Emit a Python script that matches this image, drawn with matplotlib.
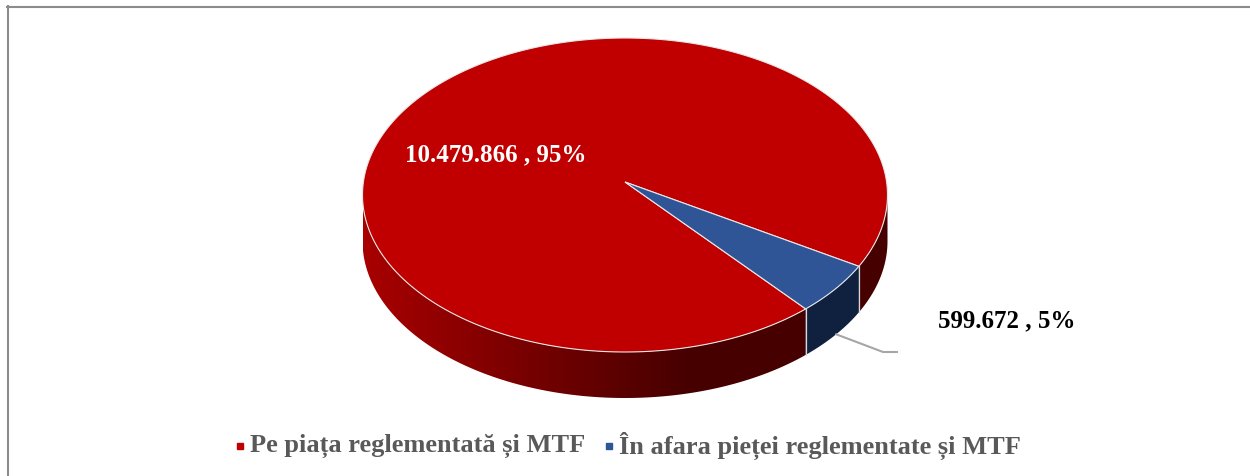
import numpy as np
import matplotlib
matplotlib.use("Agg")
import matplotlib.pyplot as plt
from matplotlib.patches import Polygon
from matplotlib.colors import to_rgb

# ---- data ----
categories = ["Pe piața reglementată și MTF", "În afara pieței reglementate și MTF"]
values = [10479866, 599672]
value_labels = ["10.479.866", "599.672"]
top_colors = ["#C00000", "#2F5597"]
side_left_colors = ["#A80000", "#1A2D55"]
side_right_colors = ["#460000", "#10203F"]

# ---- layout ----
W, H = 1250, 477
cx, cy = 625.0, 196.0      # pie centre
a, b = 262.5, 157.0        # ellipse semi-axes
depth = 46.0               # extrusion depth
start_deg = -46.5          # where the first slice starts (clockwise)

fig = plt.figure(figsize=(W / 100, H / 100), dpi=100)
ax = fig.add_axes([0, 0, 1, 1])
ax.set_xlim(0, W)
ax.set_ylim(H, 0)
ax.axis("off")

total = float(sum(values))
spans = [360.0 * v / total for v in values]

def rim(t_deg, dz=0.0):
    t = np.radians(t_deg)
    return cx + a * np.cos(t), cy - b * np.sin(t) + dz

# slice angle ranges (clockwise from start)
ranges = []
cur = start_deg
for s in spans:
    ranges.append((cur - s, cur))
    cur -= s

def front_parts(lo, hi):
    """parts of [lo,hi] (deg) lying in the front half (sin<0)."""
    parts = []
    for k in range(-3, 3):
        flo, fhi = -180 + 360 * k, 0 + 360 * k
        l, h = max(lo, flo), min(hi, fhi)
        if h > l:
            parts.append((l, h))
    return parts

def hgrad(c_left, c_right, n=256):
    cl, cr = np.array(to_rgb(c_left)), np.array(to_rgb(c_right))
    xs = np.linspace(cx - a, cx + a, n)
    f = np.clip((xs - (cx - a)) / (1.25 * a), 0, 1)[:, None]
    return (cl * (1 - f) + cr * f)[None, :, :]

# ---- sides ----
for i, (lo, hi) in enumerate(ranges):
    for (l, h) in front_parts(lo, hi):
        ts = np.linspace(l, h, 200)
        xt, yt = rim(ts)
        xb, yb = rim(ts[::-1], depth)
        poly = Polygon(np.column_stack([np.r_[xt, xb], np.r_[yt, yb]]),
                       closed=True, facecolor="none", edgecolor="none")
        ax.add_patch(poly)
        im = ax.imshow(hgrad(side_left_colors[i], side_right_colors[i]),
                       extent=[cx - a, cx + a, cy + b + depth + 5, cy - b - 5],
                       aspect="auto", interpolation="bilinear", zorder=1)
        im.set_clip_path(poly)
        # vertical seam at slice boundaries
        for t in (l, h):
            if -179.5 < ((t + 180) % 360) - 180 < -0.5:
                x0, y0 = rim(t)
                ax.plot([x0, x0], [y0, y0 + depth], color="#d9d9d9", lw=0.8, zorder=2)

# ---- tops ----
for i, (lo, hi) in enumerate(ranges):
    ts = np.linspace(lo, hi, 300)
    xt, yt = rim(ts)
    pts = np.column_stack([np.r_[cx, xt], np.r_[cy - 13, yt]])
    ax.add_patch(Polygon(pts, closed=True, facecolor=top_colors[i],
                         edgecolor="#e8e8e8", lw=0.8, zorder=3))

# ---- labels ----
pcts = [f"{round(100 * v / total)}%" for v in values]
ax.text(405, 155, f"{value_labels[0]} , {pcts[0]}", color="white",
        fontsize=18, fontweight="bold", family="Liberation Serif",
        ha="left", va="center", zorder=5)
ax.text(938, 321, f"{value_labels[1]} , {pcts[1]}", color="black",
        fontsize=18, fontweight="bold", family="Liberation Serif",
        ha="left", va="center", zorder=5)

# leader line for the small slice
mid = (ranges[1][0] + ranges[1][1]) / 2
lx, ly = rim(mid, depth - 1)
ax.plot([lx, 883, 898], [ly, 353, 353], color="#A6A6A6", lw=1.5, zorder=4,
        solid_capstyle="butt")

# ---- legend ----
leg_x = [240, 609]
for i, cat in enumerate(categories):
    ax.plot(leg_x[i], 447, marker="s", ms=5, color=top_colors[i], zorder=5)
    ax.text(leg_x[i] + 10, 446, cat, color="#595959", fontsize=19,
            fontweight="bold", family="Liberation Serif", ha="left",
            va="center", zorder=5)

# ---- frame ----
ax.plot([7, W], [7.5, 7.5], color="#8C8C8C", lw=1.5, zorder=6)
ax.plot([7.5, 7.5], [7, H], color="#8C8C8C", lw=1.5, zorder=6)

fig.savefig("out.png", dpi=100)
